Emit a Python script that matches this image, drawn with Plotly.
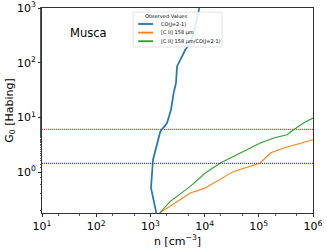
import plotly.graph_objects as go

# CO(J=2-1) contour (log10 n, log10 G0)
co_logn = [3.109, 3.011, 3.048, 3.121, 3.183, 3.306, 3.380, 3.428, 3.472, 3.491, 3.583, 3.644, 3.736, 3.828, 3.902]
co_logg = [-0.75, -0.293, 0.225, 0.530, 0.742, 0.896, 1.139, 1.444, 1.627, 1.931, 2.113, 2.236, 2.358, 2.662, 2.998]

cii_logn = [3.170, 3.306, 3.491, 3.736, 4.013, 4.229, 4.535, 5.028, 5.212, 5.458, 5.766, 6.0]
cii_logg = [-0.75, -0.658, -0.537, -0.384, -0.293, -0.172, 0.011, 0.165, 0.347, 0.439, 0.530, 0.590]

ratio_logn = [3.170, 3.367, 3.736, 4.013, 4.290, 4.598, 5.028, 5.273, 5.520, 5.642, 5.827, 6.0]
ratio_logg = [-0.75, -0.537, -0.263, -0.018, 0.165, 0.316, 0.530, 0.622, 0.682, 0.773, 0.896, 0.987]

g0_red = 6.0
g0_blue = 1.44

series_names = ["CO(J=2-1)", "[C II] 158 μm", "[C II] 158 μm/CO(J=2-1)"]
series_colors = ["#1f77b4", "#ff7f0e", "#2ca02c"]

xticks = [10, 100, 1e3, 1e4, 1e5, 1e6]
xticktext = ["10<sup>1</sup>", "10<sup>2</sup>", "10<sup>3</sup>", "10<sup>4</sup>", "10<sup>5</sup>", "10<sup>6</sup>"]
yticks = [1, 10, 100, 1000]
yticktext = ["10<sup>0</sup>", "10<sup>1</sup>", "10<sup>2</sup>", "10<sup>3</sup>"]

def p(v):
    return [10 ** a for a in v]

fig = go.Figure()
for (lx, ly), name, color, w in zip([(co_logn, co_logg), (cii_logn, cii_logg), (ratio_logn, ratio_logg)],
                                     series_names, series_colors, [1.7, 1.1, 1.1]):
    fig.add_trace(go.Scatter(x=p(lx), y=p(ly), mode="lines", name=name,
                             line=dict(color=color, width=w), showlegend=False))

fig.add_hline(y=g0_red, line=dict(color="#ff3b3b", width=1.2, dash="1px,1px"))
fig.add_hline(y=g0_blue, line=dict(color="#3b3bff", width=1.2, dash="1px,1px"))

fig.add_annotation(text="Musca", x=0.095, y=0.878, xref="paper", yref="paper", showarrow=False,
                   xanchor="left", yanchor="middle", font=dict(size=11.5, color="black"))

# manual legend (compact, like matplotlib)
fig.add_shape(type="rect", xref="paper", yref="paper", x0=0.336, x1=0.664, y0=0.81, y1=0.98,
              line=dict(color="#d0d0d0", width=0.6), fillcolor="rgba(255,255,255,0.85)", layer="above")
fig.add_annotation(text="Observed Values", x=0.458, y=0.961, xref="paper", yref="paper", showarrow=False,
                   xanchor="center", yanchor="middle", font=dict(size=5, color="black"))
for i, (name, color) in enumerate(zip(series_names, series_colors)):
    yy = 0.922 - i * 0.042
    fig.add_shape(type="line", xref="paper", yref="paper", x0=0.355, x1=0.41, y0=yy, y1=yy,
                  line=dict(color=color, width=1.8), layer="above")
    fig.add_annotation(text=name, x=0.43, y=yy, xref="paper", yref="paper", showarrow=False,
                       xanchor="left", yanchor="middle", font=dict(size=5, color="black"))

axis_common = dict(type="log", showgrid=False, zeroline=False, showline=True, linecolor="#333",
                   linewidth=1, mirror=True, ticks="outside", ticklen=3, tickcolor="#333", automargin=False,
                   tickfont=dict(size=11, color="black"), minor=dict(ticks="outside", ticklen=1.5, tickcolor="#555"))

fig.update_xaxes(range=[1, 6], tickvals=xticks, ticktext=xticktext,
                 title=dict(text="n [cm<sup>−3</sup>]", font=dict(size=11, color="black"), standoff=0),
                 **axis_common)
fig.update_yaxes(range=[-0.75, 3], tickvals=yticks, ticktext=yticktext,
                 title=dict(text="G<sub>0</sub> [Habing]", font=dict(size=11, color="black"), standoff=0),
                 **axis_common)

fig.update_layout(
    width=327, height=250,
    margin=dict(l=42, r=14, t=8, b=37),
    paper_bgcolor="white", plot_bgcolor="white",
    font=dict(family="DejaVu Sans", color="black"),
    showlegend=False,
)

fig.write_html("out.html", config={"displayModeBar": False},
               post_script="document.body.style.margin='0';document.body.style.overflow='hidden';")
